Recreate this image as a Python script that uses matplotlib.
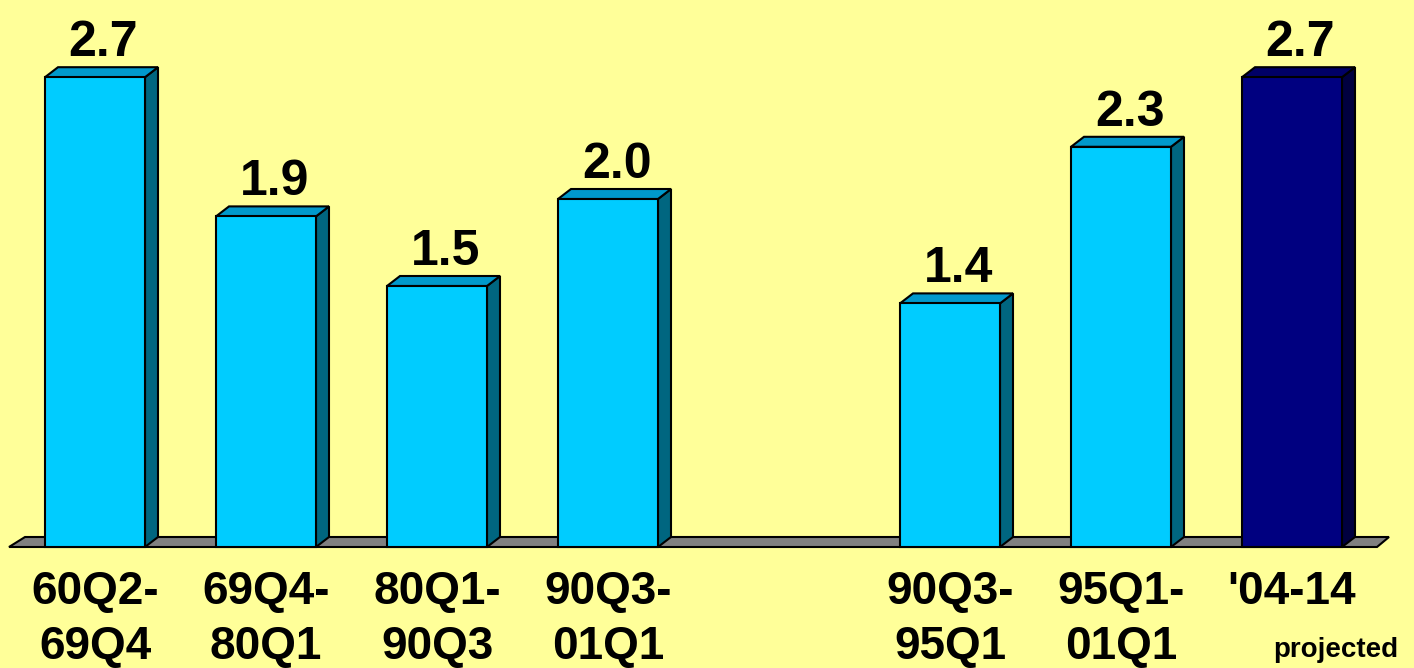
import matplotlib
matplotlib.use("Agg")
import matplotlib.pyplot as plt
from matplotlib.patches import Polygon

# data
categories = ["60Q2-\n69Q4", "69Q4-\n80Q1", "80Q1-\n90Q3", "90Q3-\n01Q1",
              "90Q3-\n95Q1", "95Q1-\n01Q1", "'04-14"]
values = [2.7, 1.9, 1.5, 2.0, 1.4, 2.3, 2.7]
slots = [0, 1, 2, 3, 5, 6, 7]   # empty slot at 4
projected = [False, False, False, False, False, False, True]

# colours: (front, side, top)
cyan = ("#00CCFF", "#006680", "#0099CC")
navy = ("#000080", "#00003F", "#000066")
bg = "#FFFF99"

W, H, DPI = 1414, 668, 100
fig = plt.figure(figsize=(W / DPI, H / DPI), dpi=DPI)
fig.patch.set_facecolor(bg)
ax = fig.add_axes([0, 0, 1, 1])
ax.set_facecolor(bg)

# pixel -> data scale (slot pitch 171 px, 174 px per unit)
px_x = 1 / 171
px_y = 1 / 174
x0 = -95 * px_x
ax.set_xlim(x0, x0 + W * px_x)
ax.set_ylim(-(H - 547) * px_y, 547 * px_y)
ax.axis("off")

bw = 100 * px_x
dx = 13 * px_x
dy = 10 * px_y

# floor
floor = Polygon([(x0 + 9 * px_x, 0), (x0 + 1377 * px_x, 0),
                 (x0 + 1389 * px_x, dy), (x0 + 25 * px_x, dy)],
                closed=True, facecolor="#808080", edgecolor="black",
                linewidth=1.5, zorder=1)
ax.add_patch(floor)

for s, v, proj in zip(slots, values, projected):
    front, side, top = navy if proj else cyan
    left = s - bw / 2
    right = s + bw / 2
    ax.bar(s, v, width=bw, color=front, edgecolor="black", linewidth=1.5, zorder=3)
    ax.add_patch(Polygon([(right, 0), (right + dx, dy), (right + dx, v + dy), (right, v)],
                         closed=True, facecolor=side, edgecolor="black",
                         linewidth=1.5, zorder=2))
    ax.add_patch(Polygon([(left, v), (right, v), (right + dx, v + dy), (left + dx, v + dy)],
                         closed=True, facecolor=top, edgecolor="black",
                         linewidth=1.5, zorder=2))
    ax.text(s + dx / 2 + 2 * px_x, v + dy + 11 * px_y, f"{v:.1f}", ha="center", va="baseline",
            fontsize=36, fontweight="bold", family="Liberation Sans", zorder=4)

for s, lab in zip(slots, categories):
    ax.text(s, -23 * px_y, lab, ha="center", va="top", fontsize=33,
            fontweight="bold", family="Liberation Sans", linespacing=1.33)

ax.text(slots[-1] + 44 * px_x, -110 * px_y, "projected", ha="center", va="baseline",
        fontsize=20, fontweight="bold", family="Liberation Sans")

fig.savefig("out.png", dpi=DPI, facecolor=bg)
